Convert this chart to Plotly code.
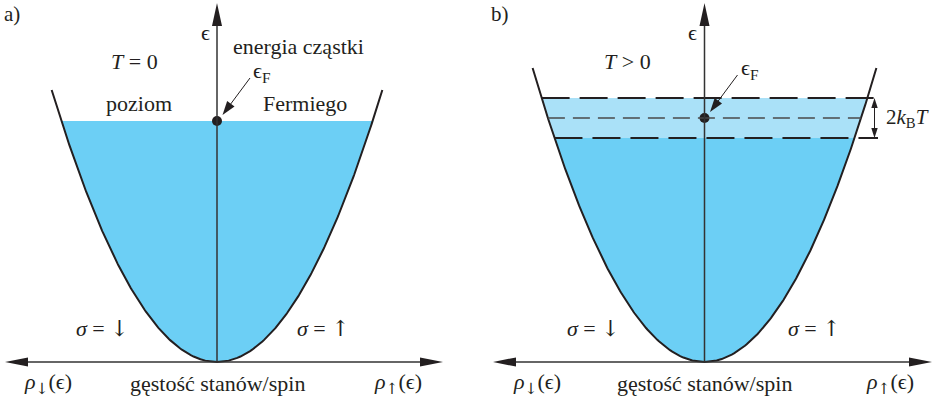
import numpy as np
import plotly.graph_objects as go

# ---------------- data (arbitrary energy units, 1 unit = 1 px) ----------------
panel_labels = ["a)", "b)"]
temperature_labels = ["<i>T</i> = 0", "<i>T</i> &gt; 0"]
fermi_energy = [241, 244]          # ε_F
thermal_halfwidth = [0, 20]        # k_B T (band 2k_BT around ε_F)
curve_top_energy = [272, 294]      # highest energy drawn for the DOS curve
dos_coef = 0.00995                 # ε = dos_coef * ρ²  (ρ ∝ sqrt(ε))
ARW = '<span style="font-family:DejaVu Serif">{}</span>'
spin_labels = ["<i>σ</i> = " + ARW.format("↓"), "<i>σ</i> = " + ARW.format("↑")]
dos_labels = ["<i>ρ</i><sub>" + ARW.format("↓") + "</sub>(ϵ)", "gęstość stanów/spin",
              "<i>ρ</i><sub>" + ARW.format("↑") + "</sub>(ϵ)"]

# ---------------- layout constants ----------------
W, H = 936, 399
Y0 = 362                      # pixel row of the density axis
centers = [217, 704.5]        # ρ = 0 in each panel
haxis_ends = [(5, 443), (493, 932)]
AX_TOP = Y0 - 3
INK = "#231F20"
DARK = "#6CCFF5"
LIGHT = "#AAE1F8"
FONT = "Liberation Serif, DejaVu Serif, serif"


def rho(e):
    return np.sqrt(np.asarray(e, dtype=float) / dos_coef)


def arrow_head(tip, tail_dir, length, half):
    tx, ty = tip
    dx, dy = tail_dir
    n = np.hypot(dx, dy)
    dx, dy = dx / n, dy / n
    bx, by = tx + dx * length, ty + dy * length
    px, py = -dy, dx
    pts = [(tx, ty), (bx + px * half, by + py * half), (bx - px * half, by - py * half)]
    return "M " + " L ".join(f"{x:.2f},{y:.2f}" for x, y in pts) + " Z"


fig = go.Figure()
shapes = []
annotations = []


def band_polygon(c, e_lo, e_hi):
    e_up = np.linspace(e_lo, e_hi, 80)
    e_dn = e_up[::-1]
    xs = np.concatenate([c + rho(e_up), c - rho(e_dn)])
    ys = np.concatenate([e_up, e_dn])
    return xs, ys


def text(x, y, s, size=22, xanchor="center"):
    annotations.append(dict(x=x, y=Y0 - y, text=s, showarrow=False, xref="x", yref="y",
                            xanchor=xanchor, yanchor="middle",
                            font=dict(family=FONT, size=size, color=INK)))


for i in range(2):
    c = centers[i]
    ef = fermi_energy[i]
    kt = thermal_halfwidth[i]
    lo, hi = ef - kt, ef + kt

    # filled states
    if kt > 0:
        xs, ys = band_polygon(c, lo, hi)
        fig.add_trace(go.Scatter(x=xs, y=ys, fill="toself", fillcolor=LIGHT, mode="none",
                                 hoverinfo="skip", showlegend=False))
    xs, ys = band_polygon(c, 0, lo)
    fig.add_trace(go.Scatter(x=xs, y=ys, fill="toself", fillcolor=DARK, mode="none",
                             hoverinfo="skip", showlegend=False))

    # dashed lines (T > 0)
    if kt > 0:
        for e, x_end, dash, w, col in [(hi, 878, "28px,10px", 2.2, INK),
                                       (lo, 878, "28px,10px", 2.2, INK),
                                       (ef, c + rho(ef), "17px,8px", 1.4, "#4a4a4a")]:
            shapes.append(dict(type="line", x0=c - rho(e), x1=x_end, y0=e, y1=e,
                               line=dict(color=col, width=w, dash=dash)))
        # 2k_BT bracket
        bx = 874.5
        shapes.append(dict(type="line", x0=bx, x1=bx, y0=lo + 9, y1=hi - 9,
                           line=dict(color=INK, width=1)))
        shapes.append(dict(type="path", path=arrow_head((bx, hi), (0, -1), 10, 3.2),
                           fillcolor=INK, line=dict(width=0)))
        shapes.append(dict(type="path", path=arrow_head((bx, lo), (0, 1), 10, 3.2),
                           fillcolor=INK, line=dict(width=0)))
        text(884, 118, "2<i>k</i><sub>B</sub><i>T</i>", size=21, xanchor="left")

    # DOS curve
    e = np.linspace(0, curve_top_energy[i], 200)
    xs = np.concatenate([c - rho(e[::-1]), c + rho(e)])
    ys = np.concatenate([e[::-1], e])
    fig.add_trace(go.Scatter(x=xs, y=ys, mode="lines", line=dict(color=INK, width=2),
                             hoverinfo="skip", showlegend=False))

    # energy axis
    shapes.append(dict(type="line", x0=c, x1=c, y0=0, y1=AX_TOP - 18,
                       line=dict(color="#333333", width=1.5)))
    shapes.append(dict(type="path", path=arrow_head((c, AX_TOP), (0, -1), 23, 5),
                       fillcolor=INK, line=dict(width=0)))
    # density axis
    xl, xr = haxis_ends[i]
    shapes.append(dict(type="line", x0=xl + 18, x1=xr - 18, y0=0, y1=0,
                       line=dict(color="#333333", width=1.5)))
    shapes.append(dict(type="path", path=arrow_head((xl, 0), (1, 0), 23, 4.6),
                       fillcolor=INK, line=dict(width=0)))
    shapes.append(dict(type="path", path=arrow_head((xr, 0), (-1, 0), 23, 4.6),
                       fillcolor=INK, line=dict(width=0)))

    # Fermi level dot and pointer
    fig.add_trace(go.Scatter(x=[c], y=[ef], mode="markers",
                             marker=dict(color=INK, size=10, line=dict(width=0)),
                             hoverinfo="skip", showlegend=False))
    tip = (c + 5.5, ef + 6)
    tail = (c + 33, ef + 43)
    d = (tail[0] - tip[0], tail[1] - tip[1])
    shapes.append(dict(type="line", x0=tip[0] + 8, y0=tip[1] + 8 * d[1] / d[0],
                       x1=tail[0], y1=tail[1], line=dict(color=INK, width=1)))
    shapes.append(dict(type="path", path=arrow_head(tip, d, 14, 4.6),
                       fillcolor=INK, line=dict(width=0)))
    text(c + 34, Y0 - ef - 49, "ϵ<sub>F</sub>", size=22, xanchor="left")

    # labels
    text(c - 12, 32, "ϵ", size=22)
    text(c - 205, 14, panel_labels[i], size=21)
    text(c - 83 if i == 0 else c - 77, 61, temperature_labels[i])
    text(c - 115 if i == 0 else c - 111, 328, spin_labels[0])
    text(c + 106 if i == 0 else c + 110, 328, spin_labels[1])
    text(c - 169 if i == 0 else c - 168, 383, dos_labels[0])
    text(c, 383, dos_labels[1])
    text(c + 181 if i == 0 else c + 185, 383, dos_labels[2])

text(298.5, 46, "energia cząstki")
text(139, 103, "poziom")
text(305, 103, "Fermiego")

fig.update_layout(
    width=W, height=H, margin=dict(l=0, r=0, t=0, b=0),
    paper_bgcolor="white", plot_bgcolor="white",
    xaxis=dict(range=[0, W], visible=False, fixedrange=True),
    yaxis=dict(range=[Y0 - H, Y0], visible=False, fixedrange=True),
    shapes=shapes, annotations=annotations, showlegend=False,
)
fig.write_html("out.html", config={"displayModeBar": False},
               post_script="document.body.style.margin='0';document.body.style.overflow='hidden';")
